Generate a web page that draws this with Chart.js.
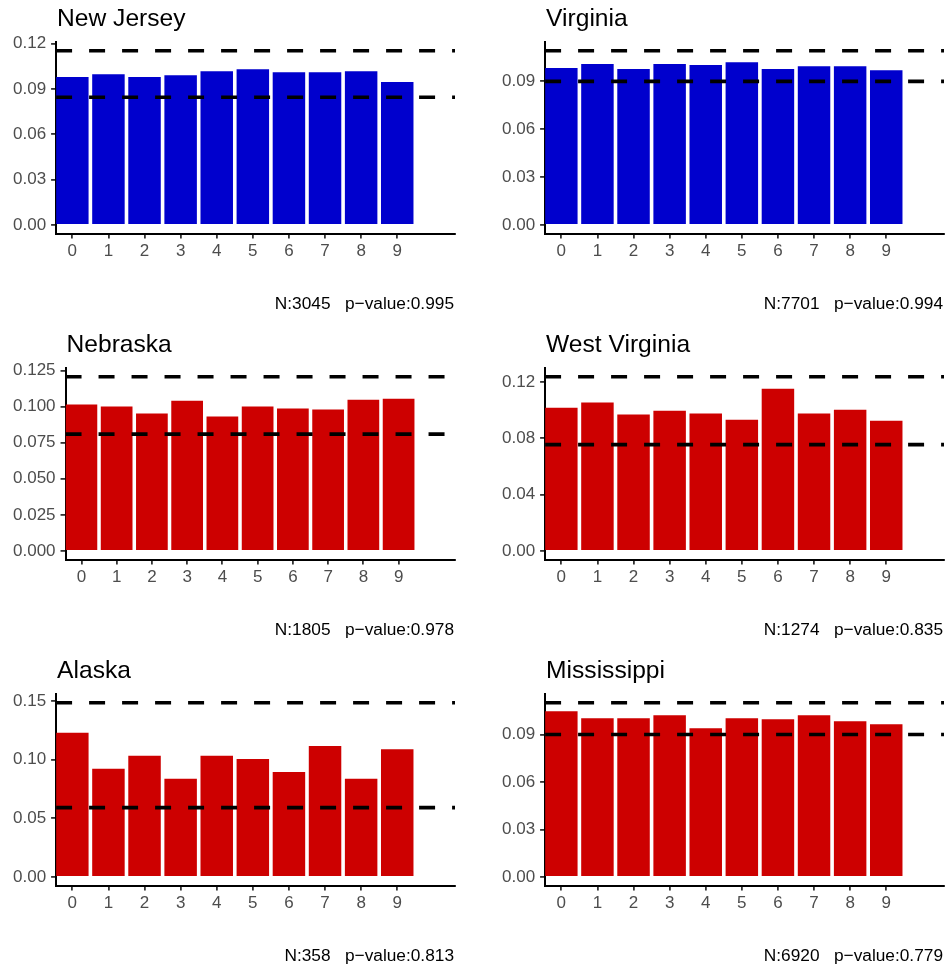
<!DOCTYPE html>
<html>
<head>
<meta charset="utf-8">
<title>Last-digit distribution by state</title>
<script src="https://cdn.jsdelivr.net/npm/chart.js@4.4.1/dist/chart.umd.min.js"></script>
<style>
  html, body { margin: 0; padding: 0; background: #ffffff; overflow: hidden; width: 946px; height: 970px; }
  .cell { position: absolute; width: 470px; height: 326px; }
</style>
</head>
<body>
<div class="cell" style="left:0px;top:0px"><canvas id="c0"></canvas></div>
<div class="cell" style="left:489px;top:0px"><canvas id="c1"></canvas></div>
<div class="cell" style="left:0px;top:326px"><canvas id="c2"></canvas></div>
<div class="cell" style="left:489px;top:326px"><canvas id="c3"></canvas></div>
<div class="cell" style="left:0px;top:652px"><canvas id="c4"></canvas></div>
<div class="cell" style="left:489px;top:652px"><canvas id="c5"></canvas></div>
<script>
// ---- data -------------------------------------------------------------
const digits = [0, 1, 2, 3, 4, 5, 6, 7, 8, 9];
const digitLabels = ['0', '1', '2', '3', '4', '5', '6', '7', '8', '9'];

const states = ['New Jersey', 'Virginia', 'Nebraska', 'West Virginia', 'Alaska', 'Mississippi'];
const sampleSizes = [3045, 7701, 1805, 1274, 358, 6920];
const pValues = ['0.995', '0.994', '0.978', '0.835', '0.813', '0.779'];

// share of counts ending in each digit 0..9
const newJersey    = [0.0979, 0.0998, 0.0979, 0.0992, 0.1018, 0.1031, 0.1011, 0.1011, 0.1018, 0.0946];
const virginia     = [0.0983, 0.1008, 0.0977, 0.1008, 0.1002, 0.1020, 0.0977, 0.0995, 0.0995, 0.0970];
const nebraska     = [0.1014, 0.1000, 0.0952, 0.1041, 0.0931, 0.1000, 0.0986, 0.0979, 0.1048, 0.1055];
const westVirginia = [0.1017, 0.1053, 0.0968, 0.0996, 0.0975, 0.0932, 0.1152, 0.0975, 0.1003, 0.0925];
const alaska       = [0.1229, 0.0922, 0.1034, 0.0838, 0.1034, 0.1006, 0.0894, 0.1117, 0.0838, 0.1089];
const mississippi  = [0.1047, 0.1003, 0.1003, 0.1022, 0.0940, 0.1003, 0.0996, 0.1022, 0.0984, 0.0965];

// acceptance band around the uniform share
const upperBounds = [0.1154, 0.1092, 0.1207, 0.1237, 0.1486, 0.1101];
const lowerBounds = [0.0846, 0.0900, 0.0809, 0.0755, 0.0591, 0.0900];

// y-axis tick labels per panel
const yTicksNewJersey    = ['0.00', '0.03', '0.06', '0.09', '0.12'];
const yTicksVirginia     = ['0.00', '0.03', '0.06', '0.09'];
const yTicksNebraska     = ['0.000', '0.025', '0.050', '0.075', '0.100', '0.125'];
const yTicksWestVirginia = ['0.00', '0.04', '0.08', '0.12'];
const yTicksAlaska       = ['0.00', '0.05', '0.10', '0.15'];
const yTicksMississippi  = ['0.00', '0.03', '0.06', '0.09'];

// ---- styling ------------------------------------------------------------
const BLUE = '#0000CD';
const RED = '#CD0000';
const FONT = '"Liberation Sans", Arial, Helvetica, sans-serif';
const X_MIN = -0.45, X_MAX = 10.6;

const panels = [
  { state: states[0], n: sampleSizes[0], p: pValues[0], values: newJersey,    hi: upperBounds[0], lo: lowerBounds[0], ticks: yTicksNewJersey,    color: BLUE },
  { state: states[1], n: sampleSizes[1], p: pValues[1], values: virginia,     hi: upperBounds[1], lo: lowerBounds[1], ticks: yTicksVirginia,     color: BLUE },
  { state: states[2], n: sampleSizes[2], p: pValues[2], values: nebraska,     hi: upperBounds[2], lo: lowerBounds[2], ticks: yTicksNebraska,     color: RED },
  { state: states[3], n: sampleSizes[3], p: pValues[3], values: westVirginia, hi: upperBounds[3], lo: lowerBounds[3], ticks: yTicksWestVirginia, color: RED },
  { state: states[4], n: sampleSizes[4], p: pValues[4], values: alaska,       hi: upperBounds[4], lo: lowerBounds[4], ticks: yTicksAlaska,       color: RED },
  { state: states[5], n: sampleSizes[5], p: pValues[5], values: mississippi,  hi: upperBounds[5], lo: lowerBounds[5], ticks: yTicksMississippi,  color: RED }
];

// Title above the plot area and the N / p-value caption below it
const annotationPlugin = {
  id: 'panelText',
  afterDraw(chart, args, opts) {
    const { ctx, chartArea } = chart;
    ctx.save();
    ctx.fillStyle = '#000000';
    ctx.textBaseline = 'alphabetic';
    ctx.textAlign = 'left';
    ctx.font = '24.6px ' + FONT;
    ctx.fillText(opts.title, chartArea.left + 1, 26);
    ctx.textAlign = 'right';
    ctx.font = '17.3px ' + FONT;
    ctx.fillText(opts.caption, chartArea.right - 1, 308.5);
    ctx.restore();
  }
};

function boundLine(y) {
  return {
    type: 'line',
    data: [{ x: X_MIN, y: y }, { x: X_MAX, y: y }],
    borderColor: '#000000',
    borderWidth: 3.6,
    borderDash: [16, 17],
    borderCapStyle: 'butt',
    pointRadius: 0,
    fill: false,
    order: 0
  };
}

panels.forEach((pn, i) => {
  const top = pn.hi;
  const tickValues = pn.ticks.map(Number);
  new Chart(document.getElementById('c' + i), {
    type: 'bar',
    data: {
      datasets: [
        {
          type: 'bar',
          data: digits.map((d, k) => ({ x: d, y: pn.values[k] })),
          backgroundColor: pn.color,
          borderWidth: 0,
          barPercentage: 0.9,
          categoryPercentage: 1.0,
          order: 1
        },
        boundLine(pn.hi),
        boundLine(pn.lo)
      ]
    },
    options: {
      responsive: true,
      maintainAspectRatio: false,
      devicePixelRatio: 1,
      animation: false,
      layout: { padding: { left: 8, right: 15, top: 42, bottom: 61 } },
      plugins: {
        legend: { display: false },
        tooltip: { enabled: false },
        panelText: { title: pn.state, caption: 'N:' + pn.n + '   p\u2212value:' + pn.p }
      },
      scales: {
        x: {
          type: 'linear',
          min: X_MIN,
          max: X_MAX,
          offset: false,
          afterBuildTicks: (scale) => { scale.ticks = digits.map(v => ({ value: v })); },
          ticks: {
            color: '#4D4D4D',
            font: { family: FONT, size: 17 },
            padding: 3,
            autoSkip: false,
            maxRotation: 0,
            callback: (v, idx) => digitLabels[idx]
          },
          grid: { display: true, drawOnChartArea: false, drawTicks: true, tickLength: 5, color: '#333333', lineWidth: 1.8, offset: false },
          border: { display: true, color: '#000000', width: 2 }
        },
        y: {
          type: 'linear',
          min: -0.05 * top,
          max: 1.05 * top,
          afterBuildTicks: (scale) => { scale.ticks = tickValues.map(v => ({ value: v })); },
          ticks: {
            color: '#4D4D4D',
            font: { family: FONT, size: 17 },
            padding: 5,
            autoSkip: false,
            callback: (v, idx) => pn.ticks[idx]
          },
          grid: { display: true, drawOnChartArea: false, drawTicks: true, tickLength: 5, color: '#333333', lineWidth: 1.8 },
          border: { display: true, color: '#000000', width: 2 }
        }
      }
    },
    plugins: [annotationPlugin]
  });
});
</script>
</body>
</html>
